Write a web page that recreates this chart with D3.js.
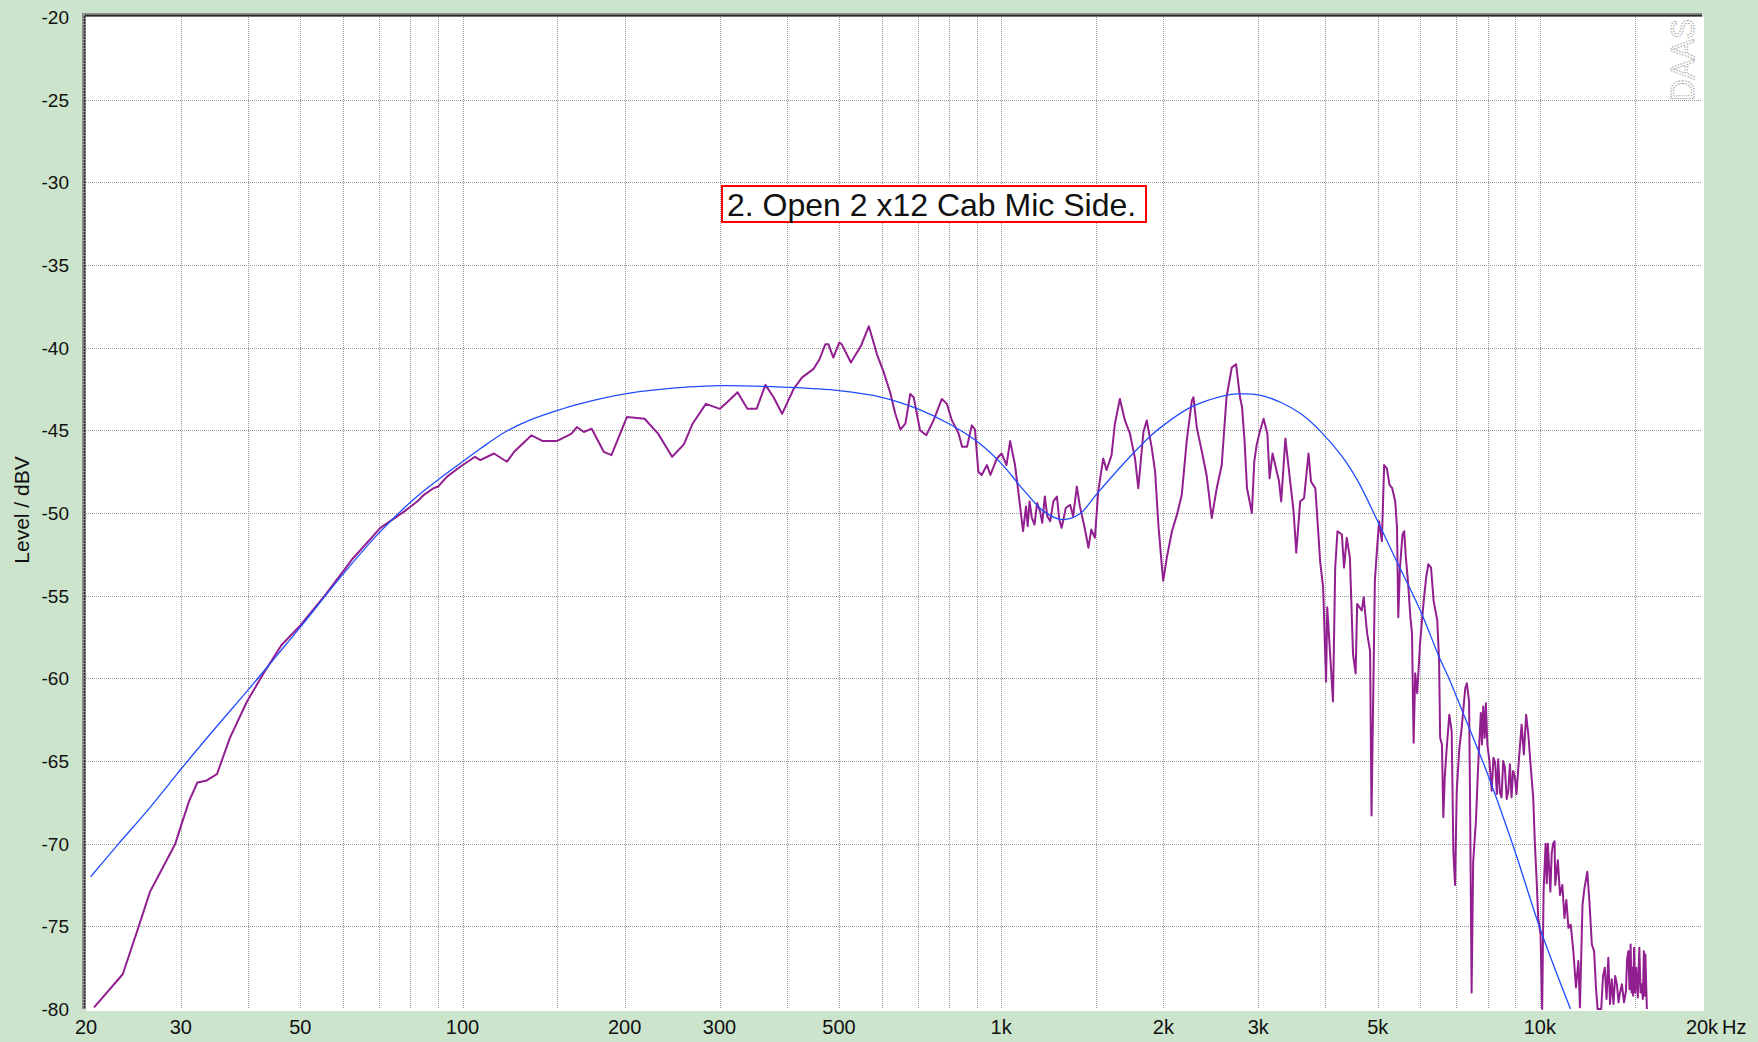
<!DOCTYPE html>
<html>
<head>
<meta charset="utf-8">
<script src="https://cdn.jsdelivr.net/npm/d3@7/dist/d3.min.js"></script>
<style>
  html, body { margin: 0; padding: 0; background: #cce4cc; }
  svg { display: block; }
  text { font-family: "Liberation Sans", Arial, sans-serif; fill: #111; }
</style>
</head>
<body>
<div id="chart"></div>
<script>
// axis ticks
const freqTicks = [20, 30, 50, 100, 200, 300, 500, 1000, 2000, 3000, 5000, 10000, 20000];
const freqLabels = ["20", "30", "50", "100", "200", "300", "500", "1k", "2k", "3k", "5k", "10k", "20k"];
const gridFreqs = [30, 40, 50, 60, 70, 80, 90, 100, 150, 200, 300, 400, 500, 600, 700, 800, 900,
  1000, 1500, 2000, 3000, 4000, 5000, 6000, 7000, 8000, 9000, 10000, 15000];
const levelTicks = [-20, -25, -30, -35, -40, -45, -50, -55, -60, -65, -70, -75, -80];

const title = "2. Open 2 x12 Cab Mic Side.";

// smooth fitted curve (blue): [Hz, dBV]
const fitCurve = [
  [20.4, -72.0], [23, -70.0], [26, -68.0], [29, -66.1], [30, -65.5], [35, -62.9], [40, -60.7],
  [45, -58.7], [50, -56.9], [60, -53.7], [70, -51.2], [81, -49.2], [90, -48.0], [100, -46.9],
  [108, -46.1], [120, -45.1], [133, -44.4], [150, -43.8], [165, -43.4], [200, -42.8],
  [228, -42.55], [300, -42.3], [400, -42.4], [500, -42.6], [600, -43.0], [700, -43.7],
  [800, -44.6], [900, -45.65], [1000, -47.0], [1100, -48.6], [1200, -49.9], [1300, -50.4],
  [1400, -50.05], [1500, -48.9], [1700, -46.9], [1900, -45.3], [2000, -44.7], [2250, -43.6],
  [2600, -42.9], [2750, -42.8], [3000, -42.85], [3300, -43.3], [3600, -44.0], [3900, -45.0],
  [4300, -46.6], [4600, -48.1], [5000, -50.5], [5400, -52.8], [6000, -55.9], [6500, -58.7],
  [6800, -60.1], [7000, -61.1], [8000, -65.8], [9000, -70.5], [10000, -75.1], [11400, -80.0]
];

// measured response (purple): [Hz, dBV]
const measured = [
  [20.7, -79.9], [23.4, -77.9], [25, -75.1], [26.3, -72.9], [27.4, -71.8], [29.3, -70.0],
  [30.1, -68.8], [31.1, -67.4], [32.2, -66.3], [33.4, -66.2], [35, -65.8], [37, -63.6],
  [39.8, -61.4], [42.9, -59.6], [46.1, -58.0], [50, -56.8], [55.5, -55.0], [62.4, -52.8],
  [70.4, -50.9], [78, -49.9], [82.4, -49.3], [84.8, -48.9], [88.3, -48.5], [90.1, -48.4],
  [93.6, -47.8], [99, -47.2], [105.5, -46.6], [107.9, -46.8], [114.4, -46.4], [120.9, -46.9],
  [124.7, -46.3], [134.3, -45.3], [141, -45.65], [149.6, -45.65], [159.4, -45.2], [163, -44.8],
  [168, -45.1], [173.7, -44.9], [182.9, -46.3], [189, -46.5], [201.9, -44.2], [217.8, -44.3],
  [230.7, -45.2], [245, -46.6], [257.6, -45.85], [267.4, -44.6], [283, -43.4], [300.4, -43.7],
  [310, -43.3], [324, -42.7], [338, -43.7], [351.6, -43.7], [365, -42.25], [378, -43.0],
  [392, -44.0], [411.8, -42.5], [427, -41.8], [448, -41.3], [460, -40.7], [471.5, -39.8],
  [478, -39.8], [488, -40.6], [500.4, -39.7], [506, -39.8], [526, -40.9], [549, -39.9],
  [568, -38.7], [588, -40.4], [604, -41.4], [622, -42.7], [636, -44.0], [650, -44.95],
  [664, -44.6], [678, -42.8], [688, -43.0], [707, -45.0], [726, -45.3], [749, -44.4],
  [776, -43.1], [793, -43.4], [810, -44.4], [834, -45.2], [846, -46.0], [864, -46.0],
  [882, -44.7], [894, -44.95], [907, -47.5], [920, -47.7], [941, -47.1], [955, -47.7],
  [982, -46.7], [1002, -46.4], [1023, -47.1], [1039, -45.65], [1061, -47.1], [1076, -48.7],
  [1098, -51.1], [1112, -49.6], [1120, -50.8], [1129, -49.3], [1140, -50.3], [1153, -50.7],
  [1166, -49.4], [1181, -49.9], [1192, -50.6], [1205, -49.0], [1218, -50.2], [1233, -50.5],
  [1250, -49.3], [1269, -49.0], [1282, -50.4], [1295, -50.9], [1318, -49.7], [1343, -49.5],
  [1360, -50.2], [1382, -48.4], [1400, -49.6], [1420, -50.5], [1437, -51.3], [1452, -52.1],
  [1470, -51.0], [1493, -51.5], [1514, -48.7], [1547, -46.7], [1569, -47.4], [1603, -46.5],
  [1626, -44.6], [1661, -43.1], [1697, -44.4], [1734, -45.2], [1772, -46.7], [1797, -48.5],
  [1837, -45.1], [1863, -44.4], [1902, -46.0], [1931, -47.5], [1958, -50.7], [1986, -53.1],
  [1999, -54.1], [2030, -52.7], [2075, -51.1], [2120, -50.1], [2164, -48.9], [2210, -45.65],
  [2259, -43.2], [2275, -43.0], [2308, -44.85], [2357, -46.25], [2406, -47.7], [2460, -50.3],
  [2513, -48.5], [2567, -47.1], [2620, -43.0], [2680, -41.2], [2729, -41.0], [2776, -43.0],
  [2800, -43.6], [2830, -45.65], [2860, -48.5], [2920, -50.0], [2950, -46.9], [2980, -45.9],
  [3020, -45.1], [3070, -44.3], [3120, -45.2], [3150, -47.9], [3190, -46.4], [3280, -48.1],
  [3310, -49.3], [3370, -45.5], [3440, -48.1], [3490, -49.9], [3530, -52.4], [3590, -49.3],
  [3650, -49.1], [3720, -46.4], [3760, -48.1], [3830, -48.5], [3870, -50.7], [3910, -52.95],
  [3960, -54.5], [4010, -60.2], [4030, -55.7], [4070, -57.95], [4130, -61.4], [4170, -53.3],
  [4210, -51.1], [4290, -51.3], [4330, -53.3], [4380, -51.5], [4440, -52.7], [4500, -58.55],
  [4550, -59.7], [4580, -55.5], [4670, -55.9], [4710, -55.1], [4780, -57.3], [4840, -58.35],
  [4870, -68.3], [4940, -54.1], [4990, -52.0], [5030, -50.5], [5090, -51.7], [5140, -47.1],
  [5200, -47.3], [5260, -48.3], [5320, -48.5], [5390, -49.3], [5430, -50.9], [5460, -56.3],
  [5500, -53.3], [5560, -51.3], [5600, -51.1], [5640, -52.7], [5690, -54.1], [5750, -56.3],
  [5790, -57.3], [5830, -63.9], [5870, -59.7], [5920, -60.9], [5990, -57.95], [6080, -55.5],
  [6150, -53.9], [6210, -53.1], [6280, -53.3], [6350, -55.3], [6450, -56.5], [6500, -58.9],
  [6530, -63.6], [6580, -64.0], [6620, -68.4], [6660, -66.0], [6710, -64.4], [6790, -62.2],
  [6860, -63.2], [6910, -70.5], [6960, -72.5], [7010, -66.8], [7090, -64.2], [7160, -63.0],
  [7270, -60.6], [7320, -60.3], [7390, -61.4], [7420, -67.2], [7470, -79.0], [7520, -71.1],
  [7610, -68.6], [7680, -65.4], [7770, -62.1], [7810, -64.0], [7850, -61.7], [7900, -63.6],
  [7940, -61.5], [7990, -64.0], [8060, -65.0], [8140, -66.8], [8200, -64.8], [8260, -65.1],
  [8320, -67.0], [8370, -64.9], [8430, -66.9], [8490, -67.2], [8550, -65.0], [8610, -65.4],
  [8680, -67.3], [8740, -66.8], [8800, -65.2], [8860, -67.2], [8920, -65.6], [8990, -66.0],
  [9050, -67.0], [9120, -65.4], [9250, -62.8], [9340, -64.6], [9430, -62.2], [9520, -63.4],
  [9610, -65.2], [9720, -67.2], [9790, -70.0], [9860, -72.1], [9930, -74.5], [10030, -75.5],
  [10100, -80.0], [10160, -72.9], [10250, -70.0], [10300, -72.4], [10350, -70.0], [10460, -72.9],
  [10520, -70.6], [10580, -70.0], [10650, -69.85], [10680, -72.5], [10800, -71.0], [10900, -73.1],
  [11010, -72.5], [11110, -74.5], [11200, -73.4], [11300, -75.1], [11410, -74.9], [11540, -76.5],
  [11670, -78.7], [11790, -77.1], [11870, -79.9], [12000, -73.7], [12100, -72.7], [12250, -71.7],
  [12360, -73.5], [12490, -76.1], [12610, -76.5], [12710, -78.7], [12800, -80.0], [13000, -80.0],
  [13100, -78.0], [13200, -77.5], [13300, -79.4], [13400, -76.9], [13500, -79.7], [13600, -78.2],
  [13700, -79.7], [13800, -78.0], [13900, -78.5], [14000, -79.6], [14070, -79.1], [14200, -78.5],
  [14330, -79.6], [14450, -78.9], [14520, -77.0], [14600, -76.5], [14670, -78.8], [14740, -76.1],
  [14800, -79.0], [14860, -77.5], [14900, -79.2], [14960, -76.3], [15030, -79.0], [15100, -77.5],
  [15200, -79.3], [15300, -76.3], [15380, -79.0], [15450, -78.5], [15530, -79.4], [15600, -76.5],
  [15650, -79.2], [15700, -76.7], [15800, -80.0]
];

const W = 1758, H = 1042;
const margin = { left: 86, right: 1702, top: 17, bottom: 1009 };

const svg = d3.select("#chart").append("svg")
  .attr("width", W)
  .attr("height", H);

svg.append("rect").attr("width", W).attr("height", H).attr("fill", "#cce4cc");

const x = d3.scaleLog().domain([20, 20000]).range([margin.left, margin.right]);
const y = d3.scaleLinear().domain([-80, -20]).range([margin.bottom, margin.top]);

// white plot area
svg.append("rect")
  .attr("x", margin.left).attr("y", margin.top)
  .attr("width", margin.right - margin.left + 2).attr("height", margin.bottom - margin.top + 2)
  .attr("fill", "#ffffff");

svg.append("clipPath").attr("id", "plot-clip")
  .append("rect")
  .attr("x", margin.left).attr("y", margin.top)
  .attr("width", margin.right - margin.left + 2).attr("height", margin.bottom - margin.top + 1);

// grid
const grid = svg.append("g")
  .attr("stroke", "#9a9a9a")
  .attr("stroke-width", 1)
  .attr("stroke-dasharray", "1,1")
  .attr("shape-rendering", "crispEdges");

grid.selectAll("line.v")
  .data(gridFreqs)
  .join("line")
  .attr("class", "v")
  .attr("x1", d => Math.round(x(d)) + 0.5)
  .attr("x2", d => Math.round(x(d)) + 0.5)
  .attr("y1", margin.top)
  .attr("y2", margin.bottom);

grid.selectAll("line.h")
  .data(levelTicks.filter(d => d > -80 && d < -20))
  .join("line")
  .attr("class", "h")
  .attr("x1", margin.left)
  .attr("x2", margin.right)
  .attr("y1", d => Math.round(y(d)) + 0.5)
  .attr("y2", d => Math.round(y(d)) + 0.5);

// sunken frame on top and left
svg.append("rect").attr("x", margin.left - 4).attr("y", margin.top - 4)
  .attr("width", margin.right - margin.left + 4).attr("height", 4).attr("fill", "#8e8e8e");
svg.append("rect").attr("x", margin.left - 4).attr("y", margin.top - 4)
  .attr("width", 4).attr("height", margin.bottom - margin.top + 4).attr("fill", "#8e8e8e");
svg.append("line")
  .attr("x1", margin.left - 1).attr("x2", margin.right).attr("y1", margin.top - 1.5).attr("y2", margin.top - 1.5)
  .attr("stroke", "#2a2a2a").attr("stroke-width", 1.5);
svg.append("line")
  .attr("x1", margin.left - 1.5).attr("x2", margin.left - 1.5).attr("y1", margin.top - 1).attr("y2", margin.bottom)
  .attr("stroke", "#2a2a2a").attr("stroke-width", 1.5)
  .attr("stroke-dasharray", "2,1");

// logo
svg.append("text")
  .attr("transform", `translate(${margin.right - 8},${margin.top + 84}) rotate(-90)`)
  .attr("font-size", 33)
  .attr("textLength", 82)
  .attr("lengthAdjust", "spacingAndGlyphs")
  .style("fill", "none")
  .attr("stroke", "#a8a8a8")
  .attr("stroke-width", 1.2)
  .attr("stroke-dasharray", "1.5,1.5")
  .text("DAAS");

// curves
const line = d3.line()
  .x(d => x(d[0]))
  .y(d => y(d[1]));

const plot = svg.append("g").attr("clip-path", "url(#plot-clip)");

plot.append("path")
  .datum(measured)
  .attr("fill", "none")
  .attr("stroke", "#921f90")
  .attr("stroke-width", 2)
  .attr("stroke-linejoin", "round")
  .attr("d", line);

plot.append("path")
  .datum(fitCurve)
  .attr("fill", "none")
  .attr("stroke", "#1f4cff")
  .attr("stroke-width", 1.3)
  .attr("d", line.curve(d3.curveCatmullRom.alpha(0.5)));

// title box
const tb = svg.append("g");
tb.append("rect")
  .attr("x", 722).attr("y", 186)
  .attr("width", 424).attr("height", 36)
  .attr("fill", "#ffffff")
  .attr("stroke", "#ff0000")
  .attr("stroke-width", 2);
tb.append("text")
  .attr("x", 727).attr("y", 216)
  .attr("font-size", 32)
  .text(title);

// x labels
svg.append("g").selectAll("text")
  .data(freqTicks)
  .join("text")
  .attr("x", d => x(d))
  .attr("y", 1034)
  .attr("text-anchor", "middle")
  .attr("font-size", 20)
  .text((d, i) => freqLabels[i]);

svg.append("text")
  .attr("x", x(20000) + 20)
  .attr("y", 1034)
  .attr("font-size", 20)
  .text("Hz");

// y labels
svg.append("g").selectAll("text")
  .data(levelTicks)
  .join("text")
  .attr("x", 69)
  .attr("y", d => y(d))
  .attr("dy", "0.36em")
  .attr("text-anchor", "end")
  .attr("font-size", 19)
  .text(d => d);

svg.append("text")
  .attr("transform", "translate(29,510) rotate(-90)")
  .attr("text-anchor", "middle")
  .attr("font-size", 21)
  .text("Level / dBV");
</script>
</body>
</html>
